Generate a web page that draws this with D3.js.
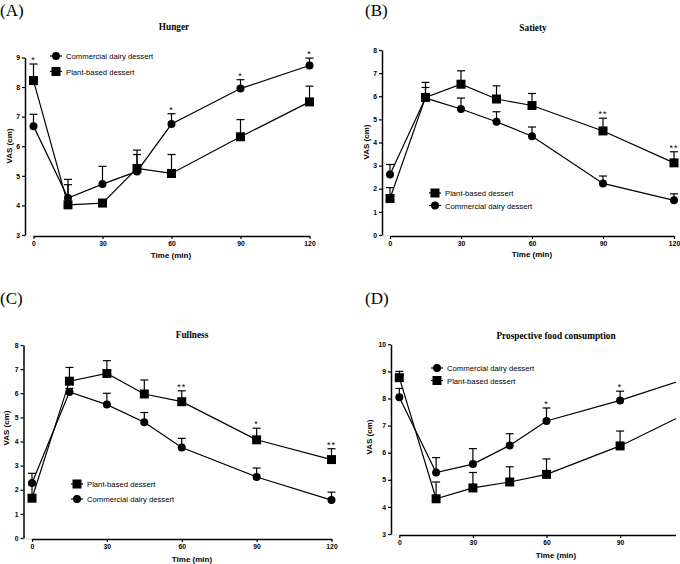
<!DOCTYPE html>
<html>
<head>
<meta charset="utf-8">
<script src="https://cdn.jsdelivr.net/npm/d3@7"></script>
<style>
body{margin:0;background:#fff}
svg text{fill:#000}
.tick text{font-family:"Liberation Sans",Arial,sans-serif;font-weight:bold;font-size:6.8px}
</style>
</head>
<body>
<div id="chart"></div>
<script>
// time points (min)
var times=[0,15,30,45,60,90,120]

// A - Hunger
var hungerDairy=[6.68,4.25,4.72,5.15,6.75,7.95,8.73]
var hungerDairyErr=[7.08,4.70,5.32,5.72,7.10,8.25,8.98]
var hungerPlant=[8.22,4.02,4.08,5.25,5.08,6.32,7.50]
var hungerPlantErr=[8.78,4.88,4.10,5.87,5.72,6.90,8.03]
var hungerStars=["*","","","","*","*","*"]

// B - Satiety
var satietyPlant=[1.58,5.95,6.52,5.88,5.60,4.50,3.12]
var satietyPlantErr=[2.05,6.60,7.10,6.45,6.12,5.05,3.60]
var satietyDairy=[2.62,5.92,5.45,4.90,4.27,2.23,1.50]
var satietyDairyErr=[3.05,6.38,5.92,5.33,4.67,2.55,1.78]
var satietyStars=["","","","","","**","**"]

// C - Fullness
var fullPlant=[1.65,6.50,6.82,5.97,5.65,4.07,3.25]
var fullPlantErr=[2.20,7.07,7.35,6.55,6.10,4.55,3.70]
var fullDairy=[2.28,6.05,5.53,4.80,3.75,2.53,1.57]
var fullDairyErr=[2.68,6.20,6.00,5.20,4.13,2.90,1.90]
var fullStars=["","","","","**","*","**"]

// D - Prospective food consumption (panel is cut at the right edge)
var pfcDairy=[8.05,5.27,5.58,6.27,7.17,7.93,8.82]
var pfcDairyErr=[8.37,5.82,6.15,6.70,7.65,8.27,9.10]
var pfcPlant=[8.77,4.30,4.70,4.92,5.20,6.25,7.58]
var pfcPlantErr=[9.00,4.92,5.27,5.48,5.77,6.80,8.10]
var pfcStars=["","","","","*","*",""]

var xTicks=[0,30,60,90,120]
var xTicksD=[0,30,60,90]

var svg=d3.select("#chart").append("svg")
	.attr("width",680)
	.attr("height",564)

var clip=svg.append("defs").append("clipPath").attr("id","clipD")
clip.append("rect").attr("x",0).attr("y",0).attr("width",676).attr("height",564)

function drawPanel(p){
	var g=svg.append("g").attr("clip-path",p.clip?"url(#"+p.clip+")":null)

	var x=d3.scaleLinear().domain([0,120]).range(p.xr)
	var y=d3.scaleLinear().domain(p.yd).range(p.yr)

	// panel letter
	svg.append("text")
		.attr("x",p.letter[1]).attr("y",p.letter[2])
		.attr("font-family","Liberation Serif,Times New Roman,serif")
		.attr("font-size",17)
		.attr("fill","#000")
		.text(p.letter[0])

	// title
	g.append("text")
		.attr("x",p.title[1]).attr("y",p.title[2])
		.attr("text-anchor","middle")
		.attr("font-family","Liberation Serif,Times New Roman,serif")
		.attr("font-weight","bold")
		.attr("font-size",9.3)
		.attr("fill","#000")
		.text(p.title[0])

	// y axis, offset to the left of x=0
	var yTicks=d3.range(p.yd[0],p.yd[1]+1)
	var gy=g.append("g")
		.attr("transform","translate("+p.yAxisX+",0)")
		.call(d3.axisLeft(y).tickValues(yTicks).tickFormat(d3.format("d")).tickSize(3).tickPadding(2).tickSizeOuter(0))
	gy.select(".domain").attr("stroke-width",1.5)
	gy.selectAll(".tick line").attr("stroke-width",1.2)

	// x axis
	var gx=g.append("g")
		.attr("transform","translate(0,"+(p.yr[0]+1)+")")
		.call(d3.axisBottom(x).tickValues(p.xTicks||xTicks).tickFormat(d3.format("d")).tickSize(3).tickPadding(2).tickSizeOuter(0))
	gx.select(".domain").attr("stroke-width",1.5)
	gx.selectAll(".tick line").attr("stroke-width",1.2)

	// dotted gap between axes
	g.append("line")
		.attr("x1",p.yAxisX).attr("x2",p.xr[0])
		.attr("y1",p.yr[0]+1).attr("y2",p.yr[0]+1)
		.attr("stroke","#888").attr("stroke-width",0.8)
		.attr("stroke-dasharray","1,1.5")

	// axis titles
	g.append("text")
		.attr("transform","translate("+p.ylab[0]+","+p.ylab[1]+") rotate(-90)")
		.attr("text-anchor","middle")
		.attr("font-family","Liberation Sans,Arial,sans-serif")
		.attr("font-weight","bold")
		.attr("font-size",8)
		.attr("fill","#000")
		.text("VAS (cm)")
	g.append("text")
		.attr("x",p.xlab[0]).attr("y",p.xlab[1])
		.attr("text-anchor","middle")
		.attr("font-family","Liberation Sans,Arial,sans-serif")
		.attr("font-weight","bold")
		.attr("font-size",8)
		.attr("fill","#000")
		.text("Time (min)")

	var line=d3.line()
		.x(function(d,i){return x(times[i])})
		.y(function(d){return y(d)})

	p.series.forEach(function(s){
		// error bars (upper only)
		s.err.forEach(function(e,i){
			g.append("line")
				.attr("x1",x(times[i])).attr("x2",x(times[i]))
				.attr("y1",y(s.vals[i])).attr("y2",y(e))
				.attr("stroke","#000").attr("stroke-width",1.2)
			g.append("line")
				.attr("x1",x(times[i])-4).attr("x2",x(times[i])+4)
				.attr("y1",y(e)).attr("y2",y(e))
				.attr("stroke","#000").attr("stroke-width",1.2)
		})
		g.append("path")
			.datum(s.vals)
			.attr("fill","none")
			.attr("stroke","#000")
			.attr("stroke-width",1.2)
			.attr("d",line)
	})
	p.series.forEach(function(s){
		s.vals.forEach(function(v,i){
			drawMarker(g,s.shape,x(times[i]),y(v))
		})
	})

	// significance stars above the highest error bar
	p.stars.forEach(function(st,i){
		if(!st) return
		var top=d3.max(p.series,function(s){return s.err[i]})
		g.append("text")
			.attr("x",x(times[i])).attr("y",y(top)-1)
			.attr("text-anchor","middle")
			.attr("font-family","Liberation Sans,Arial,sans-serif")
			.attr("font-size",9)
			.attr("letter-spacing",1)
			.attr("fill","#000")
			.text(st)
	})

	// legend
	p.series.forEach(function(s,i){
		var lx=p.legend[0], ly=p.legend[1]+i*p.legend[2]
		g.append("line")
			.attr("x1",lx-6).attr("x2",lx+6)
			.attr("y1",ly).attr("y2",ly)
			.attr("stroke","#000").attr("stroke-width",1.2)
		drawMarker(g,s.shape,lx,ly)
		g.append("text")
			.attr("x",lx+10).attr("y",ly+3)
			.attr("font-family","Liberation Sans,Arial,sans-serif")
			.attr("font-size",7.7)
			.attr("fill","#000")
			.text(s.name)
	})
}

function drawMarker(g,shape,cx,cy){
	if(shape=="circle"){
		g.append("circle").attr("cx",cx).attr("cy",cy).attr("r",4).attr("fill","#000")
	}else{
		g.append("rect").attr("x",cx-4.5).attr("y",cy-4.5).attr("width",9).attr("height",9).attr("fill","#000")
	}
}

drawPanel({
	letter:["(A)",0,16], title:["Hunger",174,30],
	xr:[33.5,309.5], yd:[3,9], yr:[235,57.5], yAxisX:25,
	ylab:[12,146], xlab:[171,258],
	series:[
		{name:"Commercial dairy dessert",shape:"circle",vals:hungerDairy,err:hungerDairyErr},
		{name:"Plant-based dessert",shape:"square",vals:hungerPlant,err:hungerPlantErr}
	],
	stars:hungerStars, legend:[56,56,15.5]
})

drawPanel({
	letter:["(B)",365,16], title:["Satiety",533,31],
	xr:[390,674], yd:[0,8], yr:[235,50], yAxisX:382,
	ylab:[369,142], xlab:[532,257],
	series:[
		{name:"Plant-based dessert",shape:"square",vals:satietyPlant,err:satietyPlantErr},
		{name:"Commercial dairy dessert",shape:"circle",vals:satietyDairy,err:satietyDairyErr}
	],
	stars:satietyStars, legend:[435,193,12.5]
})

drawPanel({
	letter:["(C)",0,304], title:["Fullness",192,338],
	xr:[32,331.5], yd:[0,8], yr:[538,345], yAxisX:23.5,
	ylab:[9,428], xlab:[192,561.5],
	series:[
		{name:"Plant-based dessert",shape:"square",vals:fullPlant,err:fullPlantErr},
		{name:"Commercial dairy dessert",shape:"circle",vals:fullDairy,err:fullDairyErr}
	],
	stars:fullStars, legend:[77,484,15]
})

drawPanel({
	letter:["(D)",365,304], title:["Prospective food consumption",556,339],
	xr:[399.3,693.7], yd:[3,10], yr:[534,344.3], yAxisX:391,
	ylab:[372,437], xlab:[556,558], xTicks:xTicksD,
	series:[
		{name:"Commercial dairy dessert",shape:"circle",vals:pfcDairy,err:pfcDairyErr},
		{name:"Plant-based dessert",shape:"square",vals:pfcPlant,err:pfcPlantErr}
	],
	stars:pfcStars, legend:[437,368,12.5], clip:"clipD"
})
</script>
</body>
</html>
